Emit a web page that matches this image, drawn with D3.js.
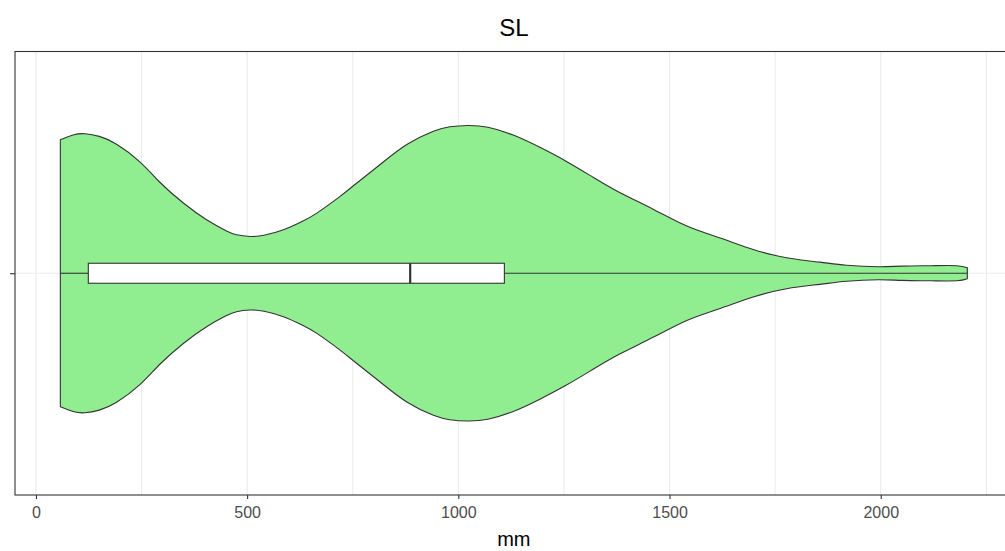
<!DOCTYPE html>
<html>
<head>
<meta charset="utf-8">
<script src="https://cdn.jsdelivr.net/npm/d3@7"></script>
<style>
  html, body { margin: 0; padding: 0; background: #fff; overflow: hidden; }
  svg { display: block; font-family: "Liberation Sans", Arial, sans-serif; }
</style>
</head>
<body>
<svg id="chart" width="1005" height="551"></svg>
<script>
// Title, axis labels and category
const chartTitle = "SL";
const xLabel = "mm";
const category = "";

// Kernel density profile of SL (relative density, peak = 1)
const densityX = [57.8, 90, 116, 150, 191, 246, 294, 349, 404, 450, 475, 507, 540, 586, 630, 665, 720, 759, 815, 878, 941, 980, 1022,
                  1070, 1130, 1193, 1257, 1320, 1383, 1462, 1541, 1620, 1698, 1777, 1856, 1919, 1994, 2050, 2120, 2180, 2205];
const densityY = [0.903, 0.937, 0.944, 0.926, 0.873, 0.754, 0.614, 0.475, 0.362, 0.288, 0.260, 0.249, 0.257, 0.294, 0.350, 0.407, 0.520, 0.609, 0.736, 0.871, 0.961, 0.991, 1.0,
                  0.988, 0.935, 0.852, 0.755, 0.648, 0.545, 0.432, 0.319, 0.238, 0.161, 0.105, 0.075, 0.054, 0.044, 0.048, 0.051, 0.051, 0.037];

// Box plot summary (mm)
const boxStats = { min: 57.8, q1: 124, median: 886, q3: 1109, max: 2205 };

// Tick values
const majorTicks = [0, 500, 1000, 1500, 2000];
const minorTicks = [250, 750, 1250, 1750, 2250];

const svg = d3.select("#chart");
const panel = { left: 15, top: 51.5, bottom: 495 };
const pxPerUnit = 0.4224;

// x scale with 5% expansion on each side of the data range
const dataMin = d3.min(densityX), dataMax = d3.max(densityX);
const pad = (dataMax - dataMin) * 0.05;
const domain = [dataMin - pad, dataMax + pad];
panel.right = panel.left + (domain[1] - domain[0]) * pxPerUnit;
const x = d3.scaleLinear().domain(domain).range([panel.left, panel.right]);

const y = d3.scalePoint().domain([category]).range([panel.bottom, panel.top]).padding(0.5);
const cy = y(category);
const w = d3.scaleLinear().domain([0, 1]).range([0, 147.8]);
const boxHalf = 10;

// Panel grid
const grid = svg.append("g");
grid.selectAll("line.minor").data(minorTicks).join("line")
  .attr("x1", d => x(d)).attr("x2", d => x(d))
  .attr("y1", panel.top).attr("y2", panel.bottom)
  .attr("stroke", "#ebebeb").attr("stroke-width", 1);
grid.selectAll("line.major").data(majorTicks).join("line")
  .attr("x1", d => x(d)).attr("x2", d => x(d))
  .attr("y1", panel.top).attr("y2", panel.bottom)
  .attr("stroke", "#ebebeb").attr("stroke-width", 1.1);
grid.append("line")
  .attr("x1", panel.left).attr("x2", panel.right)
  .attr("y1", cy).attr("y2", cy)
  .attr("stroke", "#ebebeb").attr("stroke-width", 1.1);

// Violin
const pts = densityX.map((v, i) => [v, densityY[i]]);
const area = d3.area()
  .x(d => x(d[0]))
  .y0(d => cy + w(d[1]))
  .y1(d => cy - w(d[1]))
  .curve(d3.curveNatural);
svg.append("path")
  .datum(pts)
  .attr("d", area)
  .attr("fill", "#90EE90")
  .attr("stroke", "#333333")
  .attr("stroke-width", 1.1);

// Box plot
const box = svg.append("g");
box.append("line")
  .attr("x1", x(boxStats.min)).attr("x2", x(boxStats.q1))
  .attr("y1", cy).attr("y2", cy)
  .attr("stroke", "#333").attr("stroke-width", 1.1);
box.append("line")
  .attr("x1", x(boxStats.q3)).attr("x2", x(boxStats.max))
  .attr("y1", cy).attr("y2", cy)
  .attr("stroke", "#333").attr("stroke-width", 1.1);
box.append("rect")
  .attr("x", x(boxStats.q1)).attr("y", cy - boxHalf)
  .attr("width", x(boxStats.q3) - x(boxStats.q1)).attr("height", boxHalf * 2)
  .attr("fill", "#fff").attr("stroke", "#333").attr("stroke-width", 1.1);
box.append("line")
  .attr("x1", x(boxStats.median)).attr("x2", x(boxStats.median))
  .attr("y1", cy - boxHalf).attr("y2", cy + boxHalf)
  .attr("stroke", "#333").attr("stroke-width", 2.2);

// Panel border
svg.append("rect")
  .attr("x", panel.left).attr("y", panel.top)
  .attr("width", panel.right - panel.left).attr("height", panel.bottom - panel.top)
  .attr("fill", "none").attr("stroke", "#333").attr("stroke-width", 1.1);

// x axis
const xAxis = d3.axisBottom(x).tickValues(majorTicks).tickSize(4).tickPadding(8).tickFormat(d3.format("d"));
const gx = svg.append("g").attr("transform", `translate(0,${panel.bottom})`).call(xAxis);
gx.select(".domain").remove();
gx.selectAll(".tick line").attr("stroke", "#333").attr("stroke-width", 1.1);
gx.selectAll(".tick text").attr("fill", "#4d4d4d").style("font-size", "16px")
  .style("font-family", "'Liberation Sans', Arial, sans-serif");

// y axis (single blank category)
const yAxis = d3.axisLeft(y).tickSize(5).tickPadding(3);
const gy = svg.append("g").attr("transform", `translate(${panel.left},0)`).call(yAxis);
gy.select(".domain").remove();
gy.selectAll(".tick line").attr("stroke", "#333").attr("stroke-width", 1.1);

// Labels
svg.append("text")
  .attr("x", (panel.left + panel.right) / 2).attr("y", 546)
  .attr("text-anchor", "middle").style("font-size", "20px").attr("fill", "#000")
  .text(xLabel);
svg.append("text")
  .attr("x", (panel.left + panel.right) / 2).attr("y", 36)
  .attr("text-anchor", "middle").style("font-size", "24px").attr("fill", "#000")
  .text(chartTitle);
</script>
</body>
</html>
